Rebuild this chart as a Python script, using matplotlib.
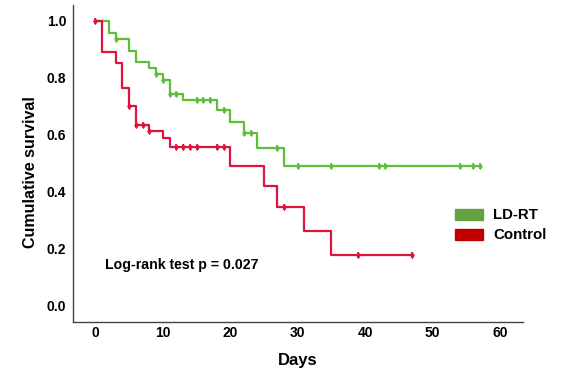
import matplotlib
matplotlib.use("Agg")
import matplotlib.pyplot as plt
import matplotlib.patches as mpatches
import numpy as np

plt.rcParams['font.family'] = ['Liberation Sans', 'DejaVu Sans']

# LD-RT group: event step times and survival after each step
ldrt_times = [0, 2, 3, 5, 6, 8, 9, 10, 11, 13, 18, 20, 22, 24, 28]
ldrt_surv = [1.0, 0.957, 0.937, 0.896, 0.855, 0.834, 0.814, 0.791, 0.744, 0.723, 0.688, 0.647, 0.606, 0.555, 0.491]
ldrt_censor = [3, 9, 10, 11, 12, 15, 16, 17, 19, 22, 23, 27, 30, 35, 42, 43, 54, 56, 57]
ldrt_end = 57

# Control group
ctrl_times = [0, 1, 3, 4, 5, 6, 8, 10, 11, 20, 25, 27, 31, 35]
ctrl_surv = [1.0, 0.892, 0.854, 0.764, 0.70, 0.635, 0.612, 0.588, 0.559, 0.491, 0.419, 0.348, 0.263, 0.177]
ctrl_censor = [0, 5, 6, 7, 8, 12, 13, 14, 15, 18, 19, 28, 39, 47]
ctrl_end = 47

x_ticks = [0, 10, 20, 30, 40, 50, 60]
y_ticks = [0.0, 0.2, 0.4, 0.6, 0.8, 1.0]

green_line = '#5DBE38'
red_line = '#DC143C'
green_patch = '#62A33E'
red_patch = '#C00000'

fig = plt.figure(figsize=(5.71, 3.80), dpi=100)
ax = fig.add_axes([0.128, 0.153, 0.788, 0.834])

def km(ax, times, surv, censor, end, color):
    t = list(times) + [end]
    s = list(surv) + [surv[-1]]
    ax.step(t, s, where='post', color=color, lw=1.6, zorder=3)
    cy = [surv[np.searchsorted(times, c, side='right') - 1] for c in censor]
    ax.plot(censor, cy, linestyle='none', marker='d', markersize=3.2,
            color=color, markeredgewidth=0.5, zorder=4)
    ax.plot(censor, cy, linestyle='none', marker='|', markersize=5,
            color=color, markeredgewidth=1.2, zorder=4)

km(ax, ldrt_times, ldrt_surv, ldrt_censor, ldrt_end, green_line)
km(ax, ctrl_times, ctrl_surv, ctrl_censor, ctrl_end, red_line)

ax.set_xlim(-3.3, 63.4)
ax.set_ylim(-0.056, 1.056)
ax.set_xticks(x_ticks)
ax.set_xticklabels([str(v) for v in x_ticks])
ax.set_yticks(y_ticks)
ax.set_yticklabels([f"{v:.1f}" for v in y_ticks])
ax.tick_params(length=0, labelsize=10, colors='black')
ax.tick_params(axis='x', pad=3)
ax.tick_params(axis='y', pad=5)
for lab in ax.get_xticklabels() + ax.get_yticklabels():
    lab.set_fontweight('bold')

for sp in ['top', 'right']:
    ax.spines[sp].set_visible(False)
for sp in ['left', 'bottom']:
    ax.spines[sp].set_color('#444444')
    ax.spines[sp].set_linewidth(1.0)

ax.set_xlabel('Days', fontsize=12, fontweight='bold')
ax.set_ylabel('Cumulative survival', fontsize=11.5, fontweight='bold')
ax.xaxis.set_label_coords(0.5, -0.098)
ax.yaxis.set_label_coords(-0.078, 0.473)

ax.text(1.5, 0.145, 'Log-rank test p = 0.027', fontsize=10.2, fontweight='bold',
        ha='left', va='center')

handles = [mpatches.Patch(color=green_patch, label='LD-RT'),
           mpatches.Patch(color=red_patch, label='Control')]
fig.legend(handles=handles, loc='center left', bbox_to_anchor=(0.797, 0.4066),
           frameon=False, prop={'weight': 'bold', 'size': 10.8}, borderpad=0,
           borderaxespad=0,
           handlelength=1.87, handleheight=0.8, handletextpad=0.67, labelspacing=0.4)

fig.savefig('out.png', dpi=100)
